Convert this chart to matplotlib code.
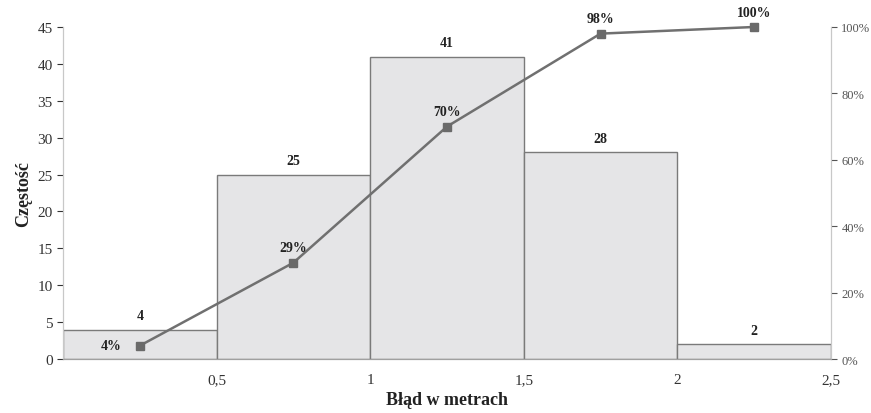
import matplotlib
matplotlib.use("Agg")
import matplotlib.pyplot as plt
from matplotlib.ticker import FuncFormatter

plt.rcParams['font.family'] = ['Liberation Serif', 'DejaVu Serif']

# histogram of errors (bin centres in metres) and cumulative share
bin_centres = [0.25, 0.75, 1.25, 1.75, 2.25]
counts = [4, 25, 41, 28, 2]
cumulative = [4, 29, 70, 98, 100]
x_ticks = [0.5, 1, 1.5, 2, 2.5]
y_ticks = [0, 5, 10, 15, 20, 25, 30, 35, 40, 45]
pct_ticks = [0, 20, 40, 60, 80, 100]

fig = plt.figure(figsize=(8.71, 4.14), dpi=100)
ax = fig.add_axes([0.0723, 0.1304, 0.8817, 0.802])
ax2 = ax.twinx()

ax.bar(bin_centres, counts, width=0.5, color='#e5e5e7', edgecolor='#7a7a7a', linewidth=1.0, zorder=2)
for xc, c in zip(bin_centres, counts):
    ax.text(xc, c + 1.0, str(c), ha='center', va='bottom', fontsize=10, fontweight='bold', color='#222222')

ax.set_xlim(0, 2.5)
ax.set_ylim(0, 45)
ax.set_xticks(x_ticks)
ax.xaxis.set_major_formatter(FuncFormatter(lambda v, p: ('%g' % v).replace('.', ',')))
ax.set_yticks(y_ticks)
ax.tick_params(axis='x', length=0, labelsize=11, colors='#333333', pad=10)
ax.tick_params(axis='y', length=4, labelsize=11, colors='#333333', width=0.8)
for t in ax.get_yticklines():
    t.set_color('#bbbbbb')
ax.set_xlabel('Błąd w metrach', fontsize=13, fontweight='bold', color='#222222', labelpad=4)
ax.set_ylabel('Częstość', fontsize=13, fontweight='bold', color='#222222', labelpad=4)

ax2.plot(bin_centres, cumulative, color='#707070', linewidth=1.8, marker='s', markersize=6,
         markerfacecolor='#6a6a6a', markeredgecolor='#6a6a6a', zorder=3, clip_on=False)
ax2.set_ylim(0, 100)
ax2.set_yticks(pct_ticks)
ax2.yaxis.set_major_formatter(FuncFormatter(lambda v, p: '%d%%' % v))
ax2.tick_params(axis='y', length=4, labelsize=9, colors='#555555', width=0.8)
for t in ax2.get_yticklines():
    t.set_color('#bbbbbb')

for xc, v in zip(bin_centres, cumulative):
    if v == cumulative[0]:
        ax2.text(xc - 0.06, v, '%d%%' % v, ha='right', va='center', fontsize=10, fontweight='bold', color='#222222')
    else:
        ax2.text(xc, v + 2.5, '%d%%' % v, ha='center', va='bottom', fontsize=10, fontweight='bold', color='#222222')

for a in (ax, ax2):
    a.spines['top'].set_visible(False)
    a.spines['left'].set_color('#c8c8c8')
    a.spines['right'].set_color('#c8c8c8')
    a.spines['bottom'].set_color('#a0a0a0')
ax2.set_zorder(ax.get_zorder() + 1)
ax2.patch.set_visible(False)

fig.savefig('out.png', dpi=100)
